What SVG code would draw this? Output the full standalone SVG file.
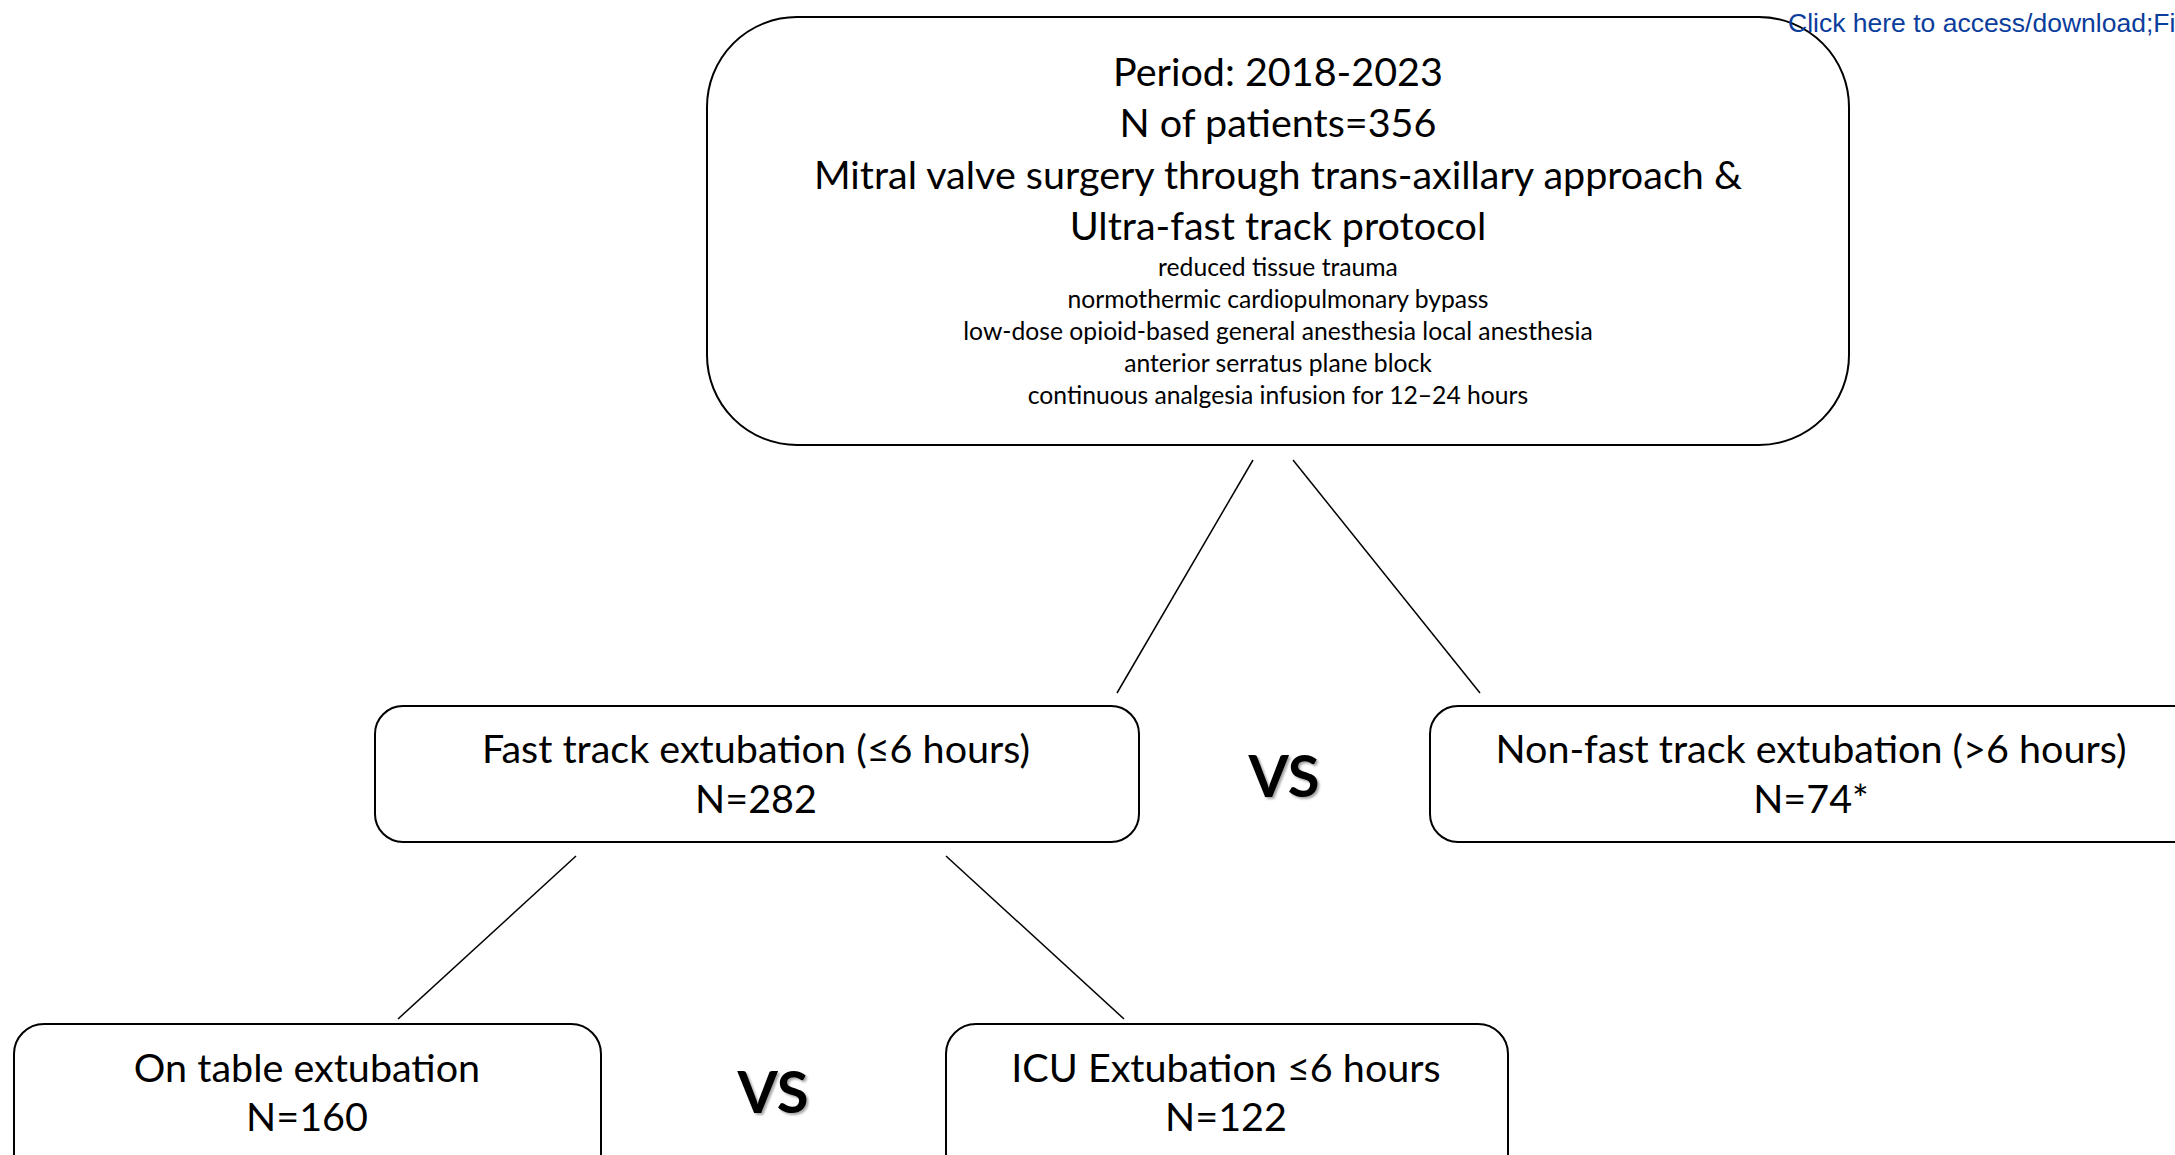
<svg xmlns="http://www.w3.org/2000/svg" width="2175" height="1155" viewBox="0 0 2175 1155">
<defs>
<style>
.box{fill:#fff;stroke:#000;stroke-width:2}
.t{font-family:Lato,"Open Sans",sans-serif;fill:#000;text-anchor:middle}
.big{font-size:39.5px}
.small{font-size:24.7px}
.vs{font-family:Lato,"Open Sans",sans-serif;font-size:58px;font-weight:bold;text-anchor:middle;fill:#000;filter:url(#sh)}
.link{font-family:"Liberation Sans",Arial,sans-serif;font-size:26.5px;fill:#0b3d9c}
.conn line{stroke:#000;stroke-width:1.5}
</style>
<filter id="sh" x="-20%" y="-20%" width="140%" height="140%">
<feDropShadow dx="2" dy="2" stdDeviation="1" flood-color="#000" flood-opacity="0.35"/>
</filter>
</defs>
<rect width="2175" height="1155" fill="#fff"/>
<g class="conn" id="connectors">
<line x1="1253" y1="460" x2="1117" y2="693"/>
<line x1="1293" y1="460" x2="1480" y2="693"/>
<line x1="576" y1="856" x2="398" y2="1019"/>
<line x1="946" y1="856" x2="1124" y2="1019"/>
</g>
<g id="top">
<rect class="box" x="707" y="17" width="1142" height="428" rx="90" ry="90"/>
<text class="t big" x="1278" y="86">Period: 2018-2023</text>
<text class="t big" x="1278" y="137">N of patients=356</text>
<text class="t big" x="1278" y="189">Mitral valve surgery through trans-axillary approach &amp;</text>
<text class="t big" x="1278" y="240">Ultra-fast track protocol</text>
<text class="t small" x="1278" y="276">reduced tissue trauma</text>
<text class="t small" x="1278" y="308">normothermic cardiopulmonary bypass</text>
<text class="t small" x="1278" y="340">low-dose opioid-based general anesthesia local anesthesia</text>
<text class="t small" x="1278" y="372">anterior serratus plane block</text>
<text class="t small" x="1278" y="404">continuous analgesia infusion for 12–24 hours</text>
</g>
<text class="link" x="1788" y="32">Click here to access/download;Fi</text>
<g id="fast">
<rect class="box" x="375" y="706" width="764" height="136" rx="28" ry="28"/>
<text class="t big" x="756" y="763">Fast track extubation (≤6 hours)</text>
<text class="t big" x="756" y="813">N=282</text>
</g>
<text class="vs" x="1284" y="797">VS</text>
<g id="nonfast">
<rect class="box" x="1430" y="706" width="800" height="136" rx="28" ry="28"/>
<text class="t big" x="1811" y="763">Non-fast track extubation (&gt;6 hours)</text>
<text class="t big" x="1811" y="813">N=74*</text>
</g>
<g id="ontable">
<rect class="box" x="14" y="1024" width="587" height="170" rx="30" ry="30"/>
<text class="t big" x="307" y="1082">On table extubation</text>
<text class="t big" x="307" y="1131">N=160</text>
</g>
<text class="vs" x="773" y="1113">VS</text>
<g id="icu">
<rect class="box" x="946" y="1024" width="562" height="170" rx="30" ry="30"/>
<text class="t big" x="1226" y="1082">ICU Extubation ≤6 hours</text>
<text class="t big" x="1226" y="1131">N=122</text>
</g>
</svg>
